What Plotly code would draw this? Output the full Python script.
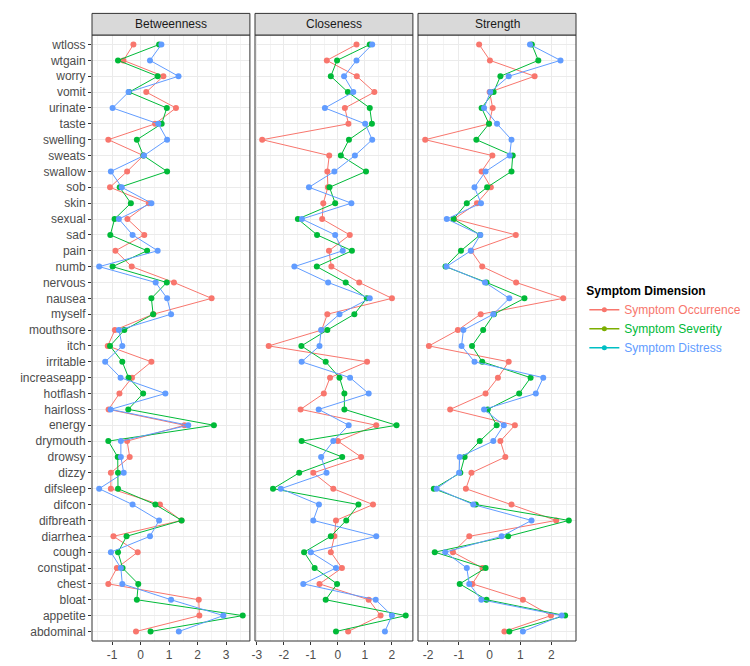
import math
import plotly.graph_objects as go

# Categories, top to bottom as in the chart
symptoms = ["wtloss", "wtgain", "worry", "vomit", "urinate", "taste", "swelling", "sweats",
            "swallow", "sob", "skin", "sexual", "sad", "pain", "numb", "nervous", "nausea",
            "myself", "mouthsore", "itch", "irritable", "increaseapp", "hotflash", "hairloss",
            "energy", "drymouth", "drowsy", "dizzy", "difsleep", "difcon", "difbreath",
            "diarrhea", "cough", "constipat", "chest", "bloat", "appetite", "abdominal"]

measures = ["Betweenness", "Closeness", "Strength"]
series_names = ["Symptom Occurrence", "Symptom Severity", "Symptom Distress"]
series_colors = ["#F8766D", "#00BA38", "#619CFF"]
legend_key_colors = ["#F8766D", "#7CAE00", "#00BFC4"]

betweenness_occurrence = [-0.25, -0.6, 0.8, 0.2, 1.24, 0.51, -1.13, 0.1, -0.47, -1.07, 0.29, -0.46, 0.13,
                          -0.88, -0.31, 1.17, 2.49, 0.45, -0.9, -1.15, 0.38, -0.3, -0.74, -1.12, 1.54,
                          -0.47, -0.38, -1.04, -1.04, 0.68, 1.43, -0.95, -0.1, -0.83, -1.13, 2.04, 2.06, -0.16]
betweenness_severity = [0.65, -0.79, 0.6, -0.4, 0.92, 0.74, -0.13, 0.1, 0.93, -0.73, -0.34, -0.91, -1.06,
                        0.23, -0.98, 0.92, 0.38, 0.44, -0.57, -1.07, -0.64, -0.42, 0.09, -0.43, 2.57,
                        -1.13, -0.8, -0.79, -0.79, 0.52, 1.44, -0.49, -0.79, -0.63, -0.08, -0.13, 3.58, 0.35]
betweenness_distress = [0.73, 0.33, 1.33, -0.42, -0.98, 0.62, 0.93, 0.12, -1.04, -0.66, 0.38, -0.76, -0.28,
                        0.6, -1.45, 0.53, 0.93, 1.07, -0.76, -0.64, -1.24, -0.7, 0.87, -1.05, 1.67,
                        -0.69, -0.69, -0.59, -1.45, -0.28, 0.65, 0.33, -1.04, -0.69, -0.64, 1.07, 2.9, 1.34]

closeness_occurrence = [0.69, -0.41, 0.7, 1.35, 0.26, 0.39, -2.8, -0.32, -0.39, -0.37, -0.54, -0.58, 0.44,
                        -0.33, -0.24, 0.79, 2.0, -0.39, -0.6, -2.56, 1.08, -0.29, -0.52, -1.38, 1.42,
                        0.0, 0.86, -0.91, -0.17, 1.3, -0.07, -0.13, -0.26, 0.15, -0.68, 1.14, 1.58, 0.38]
closeness_severity = [1.18, -0.03, -0.26, 0.37, 1.18, 1.26, 0.41, 0.11, 1.04, -0.31, -0.1, -1.48, -0.77,
                      0.52, -0.78, 0.29, 1.07, 0.61, -0.39, -1.35, -0.45, 0.06, 0.24, 0.24, 2.17,
                      -1.34, 0.16, -1.43, -2.4, 0.76, 0.31, -0.26, -1.25, -0.86, -0.03, -0.45, 2.51, -0.07]
closeness_distress = [1.27, 0.69, 0.23, 0.57, -0.48, 1.01, 1.27, 0.63, -0.13, -1.07, 0.5, -1.33, -0.1,
                      0.18, -1.61, -0.36, 1.18, 0.06, -0.62, -0.68, -1.34, 0.45, 1.14, -0.71, 0.4,
                      -0.17, -0.62, -0.42, -2.11, -0.7, -0.91, 1.42, -1.0, -0.07, -1.28, 1.4, 2.0, 1.74]

strength_occurrence = [-0.34, 0.01, 1.46, 0.0, 0.1, -0.02, -2.09, 0.09, -0.26, 0.04, -0.41, -1.15, 0.85,
                       -0.6, -0.24, 0.86, 2.39, -0.29, -1.03, -1.97, 0.62, 0.27, -0.13, -1.28, 0.82,
                       0.35, 0.51, -0.59, -0.77, 0.71, 2.16, -0.66, -1.19, -0.23, -0.56, 1.08, 1.99, 0.48]
strength_severity = [1.37, 1.58, 0.35, 0.13, -0.26, -0.02, -0.43, 0.75, 0.71, -0.08, -0.74, -1.17, -0.31,
                     -0.93, -1.43, -0.1, 1.13, 0.14, -0.21, -0.57, -0.24, 1.33, 0.96, -0.06, 0.23,
                     -0.32, -0.81, -0.95, -1.81, -0.45, 2.57, 0.6, -1.78, -0.13, -0.97, -0.1, 2.45, 0.64]
strength_distress = [1.31, 2.3, 0.62, 0.02, -0.18, 0.24, 0.71, 0.65, -0.13, -0.49, -0.28, -1.39, -0.3,
                     -0.61, -1.4, -0.15, 0.64, 0.12, -0.85, -0.91, -0.49, 1.74, 1.5, -0.18, 0.46,
                     0.12, -0.97, -0.99, -1.72, -0.53, 1.36, 0.39, -1.44, -0.74, -0.66, -0.27, 2.34, 1.08]

panels = [
    [betweenness_occurrence, betweenness_severity, betweenness_distress],
    [closeness_occurrence, closeness_severity, closeness_distress],
    [strength_occurrence, strength_severity, strength_distress],
]

W, H = 750, 666
L, R, T, B = 72, 156, 27, 22
plot_w = W - L - R
plot_h = H - T - B
panel_px = [(72, 242.3), (247.8, 418.1), (423.6, 594.0)]
domains = [[(a - L) / plot_w, (b - L) / plot_w] for a, b in panel_px]

fig = go.Figure()
axis_font = dict(family="Liberation Sans, Arial, sans-serif", size=12, color="#4D4D4D")

for p, series in enumerate(panels):
    xa = "x" if p == 0 else f"x{p+1}"
    ya = "y" if p == 0 else f"y{p+1}"
    for s, vals in enumerate(series):
        fig.add_trace(go.Scatter(
            x=vals, y=symptoms, mode="lines+markers", xaxis=xa, yaxis=ya,
            line=dict(color=series_colors[s], width=1),
            marker=dict(color=series_colors[s], size=6),
            showlegend=False, name=series_names[s]))
    allv = [v for ser in series for v in ser]
    lo, hi = min(allv), max(allv)
    pad = 0.05 * (hi - lo)
    tickvals = list(range(math.ceil(lo - pad), math.floor(hi + pad) + 1))
    ticktext = [str(v) for v in tickvals]
    xkey = "xaxis" if p == 0 else f"xaxis{p+1}"
    ykey = "yaxis" if p == 0 else f"yaxis{p+1}"
    fig.layout[xkey] = dict(
        domain=domains[p], anchor=ya, range=[lo - pad, hi + pad],
        tickmode="array", tickvals=tickvals, ticktext=ticktext,
        showgrid=True, gridcolor="#EBEBEB", gridwidth=1,
        minor=dict(dtick=0.5, tick0=0, showgrid=True, gridcolor="#F4F4F4", gridwidth=0.6),
        zeroline=False, showline=False, ticks="outside", ticklen=3, tickcolor="#333333",
        tickfont=axis_font)
    fig.layout[ykey] = dict(
        domain=[0, 1], anchor=xa, type="category",
        categoryorder="array", categoryarray=symptoms[::-1],
        range=[-0.6, len(symptoms) - 0.4],
        showgrid=True, gridcolor="#EBEBEB", gridwidth=1, zeroline=False, showline=False,
        ticks="outside" if p == 0 else "", ticklen=3, tickcolor="#333333",
        showticklabels=(p == 0), tickfont=axis_font,
        matches=None if p == 0 else "y")
    # panel border and strip
    fig.add_shape(type="rect", xref="paper", yref="paper", x0=domains[p][0], x1=domains[p][1],
                  y0=0, y1=1, line=dict(color="#333333", width=1), layer="above")
    fig.add_shape(type="rect", xref="paper", yref="paper", x0=domains[p][0], x1=domains[p][1],
                  y0=1, y1=1 + 22 / plot_h, line=dict(color="#333333", width=1),
                  fillcolor="#D9D9D9", layer="above")
    fig.add_annotation(xref="paper", yref="paper", x=(domains[p][0] + domains[p][1]) / 2,
                       y=1 + 11 / plot_h, text=measures[p], showarrow=False,
                       font=dict(family="Liberation Sans, Arial, sans-serif", size=12, color="#1A1A1A"),
                       xanchor="center", yanchor="middle")

for s in range(3):
    c = series_colors[s]
    fig.add_trace(go.Scatter(
        x=[None], y=[None], mode="lines+markers", xaxis="x", yaxis="y",
        line=dict(color=legend_key_colors[s], width=1.5),
        marker=dict(color=legend_key_colors[s], size=5),
        name=f"<span style='color:{c}'>{series_names[s]}</span>", showlegend=True))

fig.update_layout(
    width=W, height=H, margin=dict(l=L, r=R, t=T, b=B),
    plot_bgcolor="white", paper_bgcolor="white",
    font=dict(family="Liberation Sans, Arial, sans-serif"),
    legend=dict(
        title=dict(text="<b>Symptom Dimension</b>", font=dict(size=12, color="#000000")),
        x=(603 - L) / plot_w, xanchor="left", y=1 - (276 - T) / plot_h, yanchor="top",
        font=dict(size=12), itemwidth=30, bgcolor="rgba(0,0,0,0)", tracegroupgap=2),
)

fig.write_html("out.html")
